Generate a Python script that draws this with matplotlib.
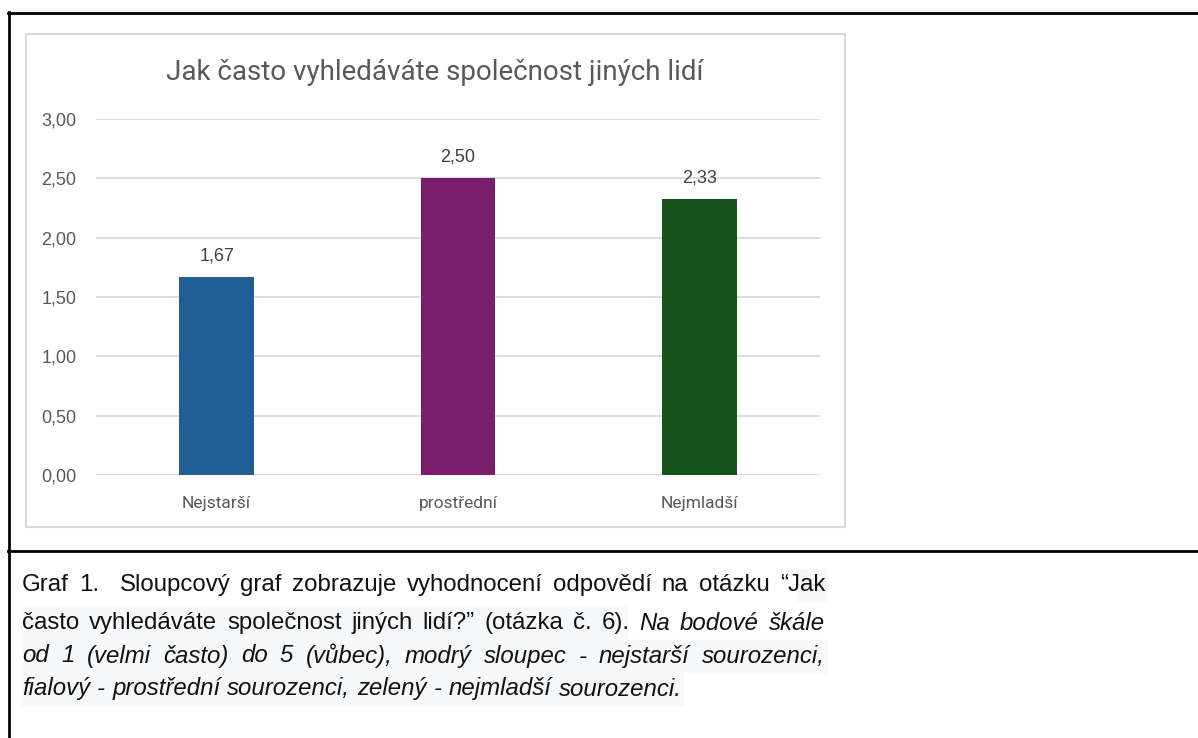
import matplotlib
matplotlib.use("Agg")
import matplotlib.pyplot as plt
from matplotlib.patches import Rectangle
from matplotlib.lines import Line2D
from matplotlib.transforms import IdentityTransform

categories = ['Nejstarší', 'prostřední', 'Nejmladší']
values = [1.67, 2.50, 2.33]
colors = ['#1f5f94', '#7a1e6c', '#15521c']
yticks = [0, 0.5, 1.0, 1.5, 2.0, 2.5, 3.0]
title = 'Jak často vyhledáváte společnost jiných lidí'

# caption lines: list of (word, italic)
caption = [
    [('Graf', 0), ('1.', 0), ('', 0), ('Sloupcový', 0), ('graf', 0), ('zobrazuje', 0),
     ('vyhodnocení', 0), ('odpovědí', 0), ('na', 0), ('otázku', 0), ('“Jak', 0)],
    [('často', 0), ('vyhledáváte', 0), ('společnost', 0), ('jiných', 0), ('lidí?”', 0),
     ('(otázka', 0), ('č.', 0), ('6).', 0), ('Na', 1), ('bodové', 1), ('škále', 1)],
    [('od', 1), ('1', 1), ('(velmi', 1), ('často)', 1), ('do', 1), ('5', 1), ('(vůbec),', 1),
     ('modrý', 1), ('sloupec', 1), ('-', 1), ('nejstarší', 1), ('sourozenci,', 1)],
    [('fialový', 1), ('-', 1), ('prostřední', 1), ('sourozenci,', 1), ('zelený', 1), ('-', 1),
     ('nejmladší', 1), ('sourozenci.', 1)],
]

W, H = 1198, 738
fig = plt.figure(figsize=(W / 100, H / 100), dpi=100)
fig.patch.set_facecolor('white')


def fx(x):
    return x / W


def fy(y):
    return 1 - y / H


# outer table frame
for xs, ys in [([9, 9], [12, H]), ([8, W], [13, 13]), ([8, W], [551, 551])]:
    fig.add_artist(Line2D([fx(v) for v in xs], [fy(v) for v in ys], color='black', lw=2))

# chart box
fig.add_artist(Rectangle((fx(26), fy(527)), fx(845) - fx(26), fy(34) - fy(527),
                         fill=False, edgecolor='#d9d9d9', lw=1.5))

ax = fig.add_axes([fx(96), fy(475), fx(820) - fx(96), fy(119) - fy(475)])
x = range(len(categories))
ax.bar(x, values, width=0.31, color=colors, zorder=3)
ax.set_xlim(-0.5, 2.5)
ax.set_ylim(0, 3)
ax.set_yticks(yticks)
ax.set_yticklabels([f'{v:.2f}'.replace('.', ',') for v in yticks],
                   fontsize=13, color='#595959', family='Liberation Sans')
ax.set_xticks(list(x))
ax.set_xticklabels(categories, fontsize=12.5, color='#595959', family='Roboto')
ax.tick_params(axis='y', length=0, pad=14)
ax.tick_params(axis='x', length=0, pad=15)
ax.grid(axis='y', color='#d9d9d9', lw=1.3, zorder=0)
for s in ax.spines.values():
    s.set_visible(False)
for i, v in enumerate(values):
    ax.annotate(f'{v:.2f}'.replace('.', ','), (i, v), xytext=(0, 15), textcoords='offset points',
                ha='center', va='center', fontsize=13, color='#404040', family='Liberation Sans')

fig.text(fx(435), fy(72), title, ha='center', va='center', fontsize=20,
         color='#595959', family='Roboto')

# caption, justified
renderer = fig.canvas.get_renderer()
line_y = [585, 623, 656, 689]
left, right = 22, 825
for li, words in enumerate(caption):
    texts = []
    for w, it in words:
        t = fig.text(0, H - line_y[li], w, transform=IdentityTransform(), va='center', ha='left',
                     fontsize=17.3, color='#111111', family='Liberation Sans',
                     style='italic' if it else 'normal')
        texts.append(t)
    widths = [t.get_window_extent(renderer).width if t.get_text() else 0 for t in texts]
    if li < len(caption) - 1:
        gap = (right - left - sum(widths)) / (len(texts) - 1)
    else:
        gap = 7
    xpos = left
    for t, wdt in zip(texts, widths):
        t.set_x(xpos)
        xpos += wdt + gap
    # light highlight behind the line
    if li > 0:
        end = xpos - gap + 2
        if li == 1:
            end = 627
        fig.add_artist(Rectangle((fx(left), fy(line_y[li] + 16)), fx(end) - fx(left), 32 / H,
                                 color='#f7f8fa', zorder=-1))
fig.add_artist(Rectangle((fx(797), fy(line_y[0] + 16)), fx(826) - fx(797), 32 / H,
                         color='#f7f8fa', zorder=-1))

fig.savefig('out.png', dpi=100)
